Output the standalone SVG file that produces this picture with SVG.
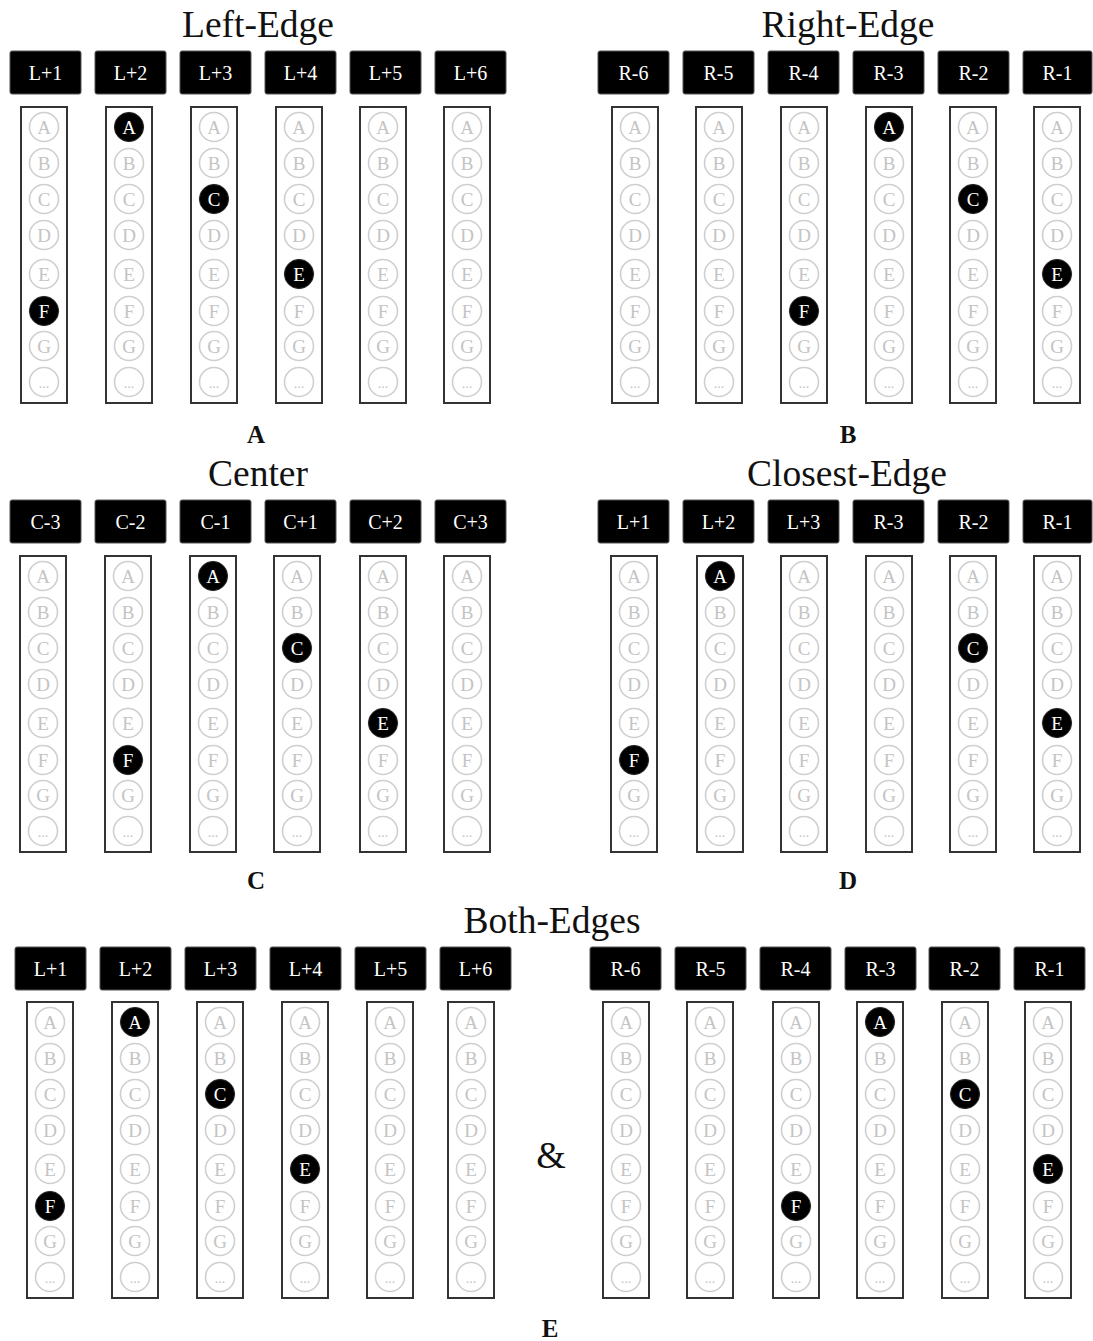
<svg xmlns="http://www.w3.org/2000/svg" xmlns:xlink="http://www.w3.org/1999/xlink" width="1093" height="1341" viewBox="0 0 1093 1341">
<style>
text{font-family:"Liberation Serif","Times New Roman",serif}
.title{font-family:"Liberation Serif","Times New Roman",serif;font-size:37.5px;fill:#111;text-anchor:middle}
.lab{font-family:"Liberation Serif","Times New Roman",serif;font-size:25px;font-weight:bold;fill:#111;text-anchor:middle}
.hd{fill:#000;stroke:#555;stroke-width:1}
.hdt{font-family:"Liberation Serif","Times New Roman",serif;font-size:20px;fill:#fff;text-anchor:middle}
.box{fill:#fff;stroke:#333;stroke-width:2}
.off{fill:#fff;stroke:#cfcfcf;stroke-width:1.6}
.offt{font-family:"Liberation Serif","Times New Roman",serif;font-size:19px;fill:#c4c4c4;text-anchor:middle}
.dots{font-family:"Liberation Serif","Times New Roman",serif;font-size:14px;fill:#c4c4c4;text-anchor:middle}
.on{fill:#000;stroke:#222;stroke-width:1}
.ont{font-family:"Liberation Serif","Times New Roman",serif;font-size:19px;fill:#fff;text-anchor:middle}
.amp{font-family:"Liberation Serif","Times New Roman",serif;font-size:38px;fill:#111;text-anchor:middle}
</style>
<defs>
<g id="col">
<rect class="box" x="0" y="0" width="46" height="296"/>
<circle class="off" cx="23" cy="20" r="14.5"/><text class="offt" x="23" y="26.5">A</text>
<circle class="off" cx="23" cy="56" r="14.5"/><text class="offt" x="23" y="62.5">B</text>
<circle class="off" cx="23" cy="92" r="14.5"/><text class="offt" x="23" y="98.5">C</text>
<circle class="off" cx="23" cy="128" r="14.5"/><text class="offt" x="23" y="134.5">D</text>
<circle class="off" cx="23" cy="167" r="14.5"/><text class="offt" x="23" y="173.5">E</text>
<circle class="off" cx="23" cy="204" r="14.5"/><text class="offt" x="23" y="210.5">F</text>
<circle class="off" cx="23" cy="239" r="14.5"/><text class="offt" x="23" y="245.5">G</text>
<circle class="off" cx="23" cy="275" r="14.5"/><text class="dots" x="23" y="281">...</text>
</g>
</defs>
<rect width="1093" height="1341" fill="#fff"/>
<g id="connectors"/>

<g id="titles">
<text class="title" x="258" y="37">Left-Edge</text>
<text class="title" x="848" y="37">Right-Edge</text>
<text class="title" x="258" y="486">Center</text>
<text class="title" x="847" y="486">Closest-Edge</text>
<text class="title" x="552" y="933">Both-Edges</text>
<text class="lab" x="256" y="443">A</text>
<text class="lab" x="848" y="443">B</text>
<text class="lab" x="256" y="889">C</text>
<text class="lab" x="848" y="889">D</text>
<text class="lab" x="550" y="1337">E</text>
<text class="amp" x="551" y="1168">&amp;</text>
</g>

<g id="panelA">
<g id="A-L1"><rect class="hd" x="10" y="51" width="71" height="43" rx="2"/><text class="hdt" x="45.5" y="80">L+1</text><use xlink:href="#col" x="21" y="107"/><circle class="on" cx="44" cy="311" r="14.5"/><text class="ont" x="44" y="317.5">F</text></g>
<g id="A-L2"><rect class="hd" x="95" y="51" width="71" height="43" rx="2"/><text class="hdt" x="130.5" y="80">L+2</text><use xlink:href="#col" x="106" y="107"/><circle class="on" cx="129" cy="127" r="14.5"/><text class="ont" x="129" y="133.5">A</text></g>
<g id="A-L3"><rect class="hd" x="180" y="51" width="71" height="43" rx="2"/><text class="hdt" x="215.5" y="80">L+3</text><use xlink:href="#col" x="191" y="107"/><circle class="on" cx="214" cy="199" r="14.5"/><text class="ont" x="214" y="205.5">C</text></g>
<g id="A-L4"><rect class="hd" x="265" y="51" width="71" height="43" rx="2"/><text class="hdt" x="300.5" y="80">L+4</text><use xlink:href="#col" x="276" y="107"/><circle class="on" cx="299" cy="274" r="14.5"/><text class="ont" x="299" y="280.5">E</text></g>
<g id="A-L5"><rect class="hd" x="350" y="51" width="71" height="43" rx="2"/><text class="hdt" x="385.5" y="80">L+5</text><use xlink:href="#col" x="360" y="107"/></g>
<g id="A-L6"><rect class="hd" x="435" y="51" width="71" height="43" rx="2"/><text class="hdt" x="470.5" y="80">L+6</text><use xlink:href="#col" x="444" y="107"/></g>
</g>

<g id="panelB">
<g id="B-R6"><rect class="hd" x="598" y="51" width="71" height="43" rx="2"/><text class="hdt" x="633.5" y="80">R-6</text><use xlink:href="#col" x="612" y="107"/></g>
<g id="B-R5"><rect class="hd" x="683" y="51" width="71" height="43" rx="2"/><text class="hdt" x="718.5" y="80">R-5</text><use xlink:href="#col" x="696" y="107"/></g>
<g id="B-R4"><rect class="hd" x="768" y="51" width="71" height="43" rx="2"/><text class="hdt" x="803.5" y="80">R-4</text><use xlink:href="#col" x="781" y="107"/><circle class="on" cx="804" cy="311" r="14.5"/><text class="ont" x="804" y="317.5">F</text></g>
<g id="B-R3"><rect class="hd" x="853" y="51" width="71" height="43" rx="2"/><text class="hdt" x="888.5" y="80">R-3</text><use xlink:href="#col" x="866" y="107"/><circle class="on" cx="889" cy="127" r="14.5"/><text class="ont" x="889" y="133.5">A</text></g>
<g id="B-R2"><rect class="hd" x="938" y="51" width="71" height="43" rx="2"/><text class="hdt" x="973.5" y="80">R-2</text><use xlink:href="#col" x="950" y="107"/><circle class="on" cx="973" cy="199" r="14.5"/><text class="ont" x="973" y="205.5">C</text></g>
<g id="B-R1"><rect class="hd" x="1023" y="51" width="69" height="43" rx="2"/><text class="hdt" x="1057.5" y="80">R-1</text><use xlink:href="#col" x="1034" y="107"/><circle class="on" cx="1057" cy="274" r="14.5"/><text class="ont" x="1057" y="280.5">E</text></g>
</g>

<g id="panelC">
<g id="C-C3m"><rect class="hd" x="10" y="500" width="71" height="43" rx="2"/><text class="hdt" x="45.5" y="529">C-3</text><use xlink:href="#col" x="20" y="556"/></g>
<g id="C-C2m"><rect class="hd" x="95" y="500" width="71" height="43" rx="2"/><text class="hdt" x="130.5" y="529">C-2</text><use xlink:href="#col" x="105" y="556"/><circle class="on" cx="128" cy="760" r="14.5"/><text class="ont" x="128" y="766.5">F</text></g>
<g id="C-C1m"><rect class="hd" x="180" y="500" width="71" height="43" rx="2"/><text class="hdt" x="215.5" y="529">C-1</text><use xlink:href="#col" x="190" y="556"/><circle class="on" cx="213" cy="576" r="14.5"/><text class="ont" x="213" y="582.5">A</text></g>
<g id="C-C1p"><rect class="hd" x="265" y="500" width="71" height="43" rx="2"/><text class="hdt" x="300.5" y="529">C+1</text><use xlink:href="#col" x="274" y="556"/><circle class="on" cx="297" cy="648" r="14.5"/><text class="ont" x="297" y="654.5">C</text></g>
<g id="C-C2p"><rect class="hd" x="350" y="500" width="71" height="43" rx="2"/><text class="hdt" x="385.5" y="529">C+2</text><use xlink:href="#col" x="360" y="556"/><circle class="on" cx="383" cy="723" r="14.5"/><text class="ont" x="383" y="729.5">E</text></g>
<g id="C-C3p"><rect class="hd" x="435" y="500" width="71" height="43" rx="2"/><text class="hdt" x="470.5" y="529">C+3</text><use xlink:href="#col" x="444" y="556"/></g>
</g>

<g id="panelD">
<g id="D-L1"><rect class="hd" x="598" y="500" width="71" height="43" rx="2"/><text class="hdt" x="633.5" y="529">L+1</text><use xlink:href="#col" x="611" y="556"/><circle class="on" cx="634" cy="760" r="14.5"/><text class="ont" x="634" y="766.5">F</text></g>
<g id="D-L2"><rect class="hd" x="683" y="500" width="71" height="43" rx="2"/><text class="hdt" x="718.5" y="529">L+2</text><use xlink:href="#col" x="697" y="556"/><circle class="on" cx="720" cy="576" r="14.5"/><text class="ont" x="720" y="582.5">A</text></g>
<g id="D-L3"><rect class="hd" x="768" y="500" width="71" height="43" rx="2"/><text class="hdt" x="803.5" y="529">L+3</text><use xlink:href="#col" x="781" y="556"/></g>
<g id="D-R3"><rect class="hd" x="853" y="500" width="71" height="43" rx="2"/><text class="hdt" x="888.5" y="529">R-3</text><use xlink:href="#col" x="866" y="556"/></g>
<g id="D-R2"><rect class="hd" x="938" y="500" width="71" height="43" rx="2"/><text class="hdt" x="973.5" y="529">R-2</text><use xlink:href="#col" x="950" y="556"/><circle class="on" cx="973" cy="648" r="14.5"/><text class="ont" x="973" y="654.5">C</text></g>
<g id="D-R1"><rect class="hd" x="1023" y="500" width="69" height="43" rx="2"/><text class="hdt" x="1057.5" y="529">R-1</text><use xlink:href="#col" x="1034" y="556"/><circle class="on" cx="1057" cy="723" r="14.5"/><text class="ont" x="1057" y="729.5">E</text></g>
</g>

<g id="panelE-left">
<g id="E-L1"><rect class="hd" x="15" y="947" width="71" height="43" rx="2"/><text class="hdt" x="50.5" y="976">L+1</text><use xlink:href="#col" x="27" y="1002"/><circle class="on" cx="50" cy="1206" r="14.5"/><text class="ont" x="50" y="1212.5">F</text></g>
<g id="E-L2"><rect class="hd" x="100" y="947" width="71" height="43" rx="2"/><text class="hdt" x="135.5" y="976">L+2</text><use xlink:href="#col" x="112" y="1002"/><circle class="on" cx="135" cy="1022" r="14.5"/><text class="ont" x="135" y="1028.5">A</text></g>
<g id="E-L3"><rect class="hd" x="185" y="947" width="71" height="43" rx="2"/><text class="hdt" x="220.5" y="976">L+3</text><use xlink:href="#col" x="197" y="1002"/><circle class="on" cx="220" cy="1094" r="14.5"/><text class="ont" x="220" y="1100.5">C</text></g>
<g id="E-L4"><rect class="hd" x="270" y="947" width="71" height="43" rx="2"/><text class="hdt" x="305.5" y="976">L+4</text><use xlink:href="#col" x="282" y="1002"/><circle class="on" cx="305" cy="1169" r="14.5"/><text class="ont" x="305" y="1175.5">E</text></g>
<g id="E-L5"><rect class="hd" x="355" y="947" width="71" height="43" rx="2"/><text class="hdt" x="390.5" y="976">L+5</text><use xlink:href="#col" x="367" y="1002"/></g>
<g id="E-L6"><rect class="hd" x="440" y="947" width="71" height="43" rx="2"/><text class="hdt" x="475.5" y="976">L+6</text><use xlink:href="#col" x="448" y="1002"/></g>
</g>

<g id="panelE-right">
<g id="E-R6"><rect class="hd" x="590" y="947" width="71" height="43" rx="2"/><text class="hdt" x="625.5" y="976">R-6</text><use xlink:href="#col" x="603" y="1002"/></g>
<g id="E-R5"><rect class="hd" x="675" y="947" width="71" height="43" rx="2"/><text class="hdt" x="710.5" y="976">R-5</text><use xlink:href="#col" x="687" y="1002"/></g>
<g id="E-R4"><rect class="hd" x="760" y="947" width="71" height="43" rx="2"/><text class="hdt" x="795.5" y="976">R-4</text><use xlink:href="#col" x="773" y="1002"/><circle class="on" cx="796" cy="1206" r="14.5"/><text class="ont" x="796" y="1212.5">F</text></g>
<g id="E-R3"><rect class="hd" x="845" y="947" width="71" height="43" rx="2"/><text class="hdt" x="880.5" y="976">R-3</text><use xlink:href="#col" x="857" y="1002"/><circle class="on" cx="880" cy="1022" r="14.5"/><text class="ont" x="880" y="1028.5">A</text></g>
<g id="E-R2"><rect class="hd" x="929" y="947" width="71" height="43" rx="2"/><text class="hdt" x="964.5" y="976">R-2</text><use xlink:href="#col" x="942" y="1002"/><circle class="on" cx="965" cy="1094" r="14.5"/><text class="ont" x="965" y="1100.5">C</text></g>
<g id="E-R1"><rect class="hd" x="1014" y="947" width="71" height="43" rx="2"/><text class="hdt" x="1049.5" y="976">R-1</text><use xlink:href="#col" x="1025" y="1002"/><circle class="on" cx="1048" cy="1169" r="14.5"/><text class="ont" x="1048" y="1175.5">E</text></g>
</g>
</svg>
